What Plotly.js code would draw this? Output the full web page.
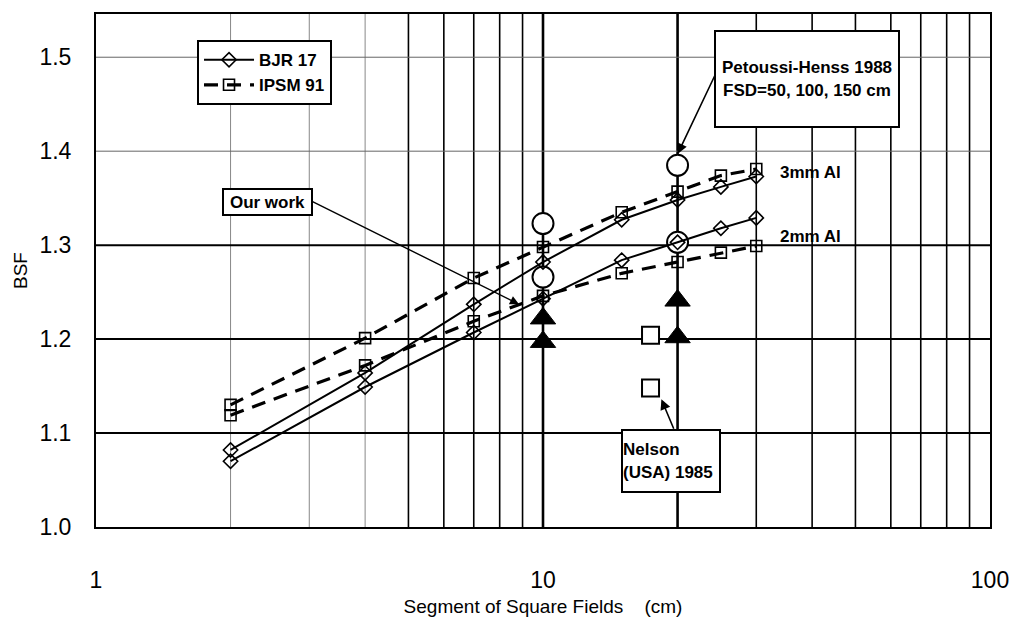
<!DOCTYPE html>
<html>
<head>
<meta charset="utf-8">
<script src="https://cdn.plot.ly/plotly-3.0.1.min.js"></script>
<style>html,body{margin:0;padding:0;background:#fff;}#chart{width:1015px;height:633px;}</style>
</head>
<body>
<div id="chart"></div>
<script>
// ---- data ----
const fieldSize = [2, 4, 7, 10, 15, 20, 25, 30];
const bjr3mm = [1.082, 1.164, 1.237, 1.282, 1.327, 1.348, 1.362, 1.373];
const bjr2mm = [1.070, 1.149, 1.207, 1.243, 1.284, 1.303, 1.318, 1.329];
const ipsm3mm = [1.130, 1.201, 1.265, 1.298, 1.335, 1.357, 1.374, 1.381];
const ipsm2mm = [1.119, 1.172, 1.219, 1.246, 1.270, 1.282, 1.292, 1.299];
const petoussiX = [10, 10, 20, 20];
const petoussiY = [1.323, 1.266, 1.385, 1.303];
const ourWorkX = [10, 10, 20, 20];
const ourWorkY = [1.222, 1.197, 1.241, 1.202];
const nelsonX = [17.4, 17.4];
const nelsonY = [1.204, 1.148];
const xTickVals = [1, 10, 100];
const xTickText = ['1', '10', '100'];
const yTickVals = [1.0, 1.1, 1.2, 1.3, 1.4, 1.5];
const yTickText = ['1.0', '1.1', '1.2', '1.3', '1.4', '1.5'];
const gridXGray = [2, 3, 4];
const gridXBlack = [5, 6, 7, 8, 9, 30, 40, 50, 60, 70, 80, 90];
const gridXThick = [10, 20];
const gridYBlack = [1.1, 1.2, 1.3];
const gridYGray = [1.4, 1.5];

const FONT = "'Liberation Sans Narrow', 'Arial Narrow', 'Liberation Sans', Arial, sans-serif";

const traces = [
  {x: petoussiX, y: petoussiY, mode: 'markers', showlegend: false, name: 'Petoussi-Henss 1988',
   marker: {symbol: 'circle', size: 21, color: 'white', line: {color: 'black', width: 2}}},
  {x: fieldSize, y: bjr3mm, mode: 'lines+markers', name: 'BJR 17', legendgroup: 'bjr',
   line: {color: 'black', width: 2},
   marker: {symbol: 'diamond-open', size: 11, color: 'black', line: {width: 1.6}}},
  {x: fieldSize, y: bjr2mm, mode: 'lines+markers', name: 'BJR 17', legendgroup: 'bjr', showlegend: false,
   line: {color: 'black', width: 2},
   marker: {symbol: 'diamond-open', size: 11, color: 'black', line: {width: 1.6}}},
  {x: fieldSize, y: ipsm3mm, mode: 'lines+markers', name: 'IPSM 91', legendgroup: 'ipsm',
   line: {color: 'black', width: 3.2, dash: '14px,9px'},
   marker: {symbol: 'square-open', size: 11, color: 'black', line: {width: 1.6}}},
  {x: fieldSize, y: ipsm2mm, mode: 'lines+markers', name: 'IPSM 91', legendgroup: 'ipsm', showlegend: false,
   line: {color: 'black', width: 3.2, dash: '14px,9px'},
   marker: {symbol: 'square-open', size: 11, color: 'black', line: {width: 1.6}}},
  {x: ourWorkX, y: ourWorkY, mode: 'markers', showlegend: false, name: 'Our work',
   marker: {symbol: 'triangle-up', size: 22, color: 'black', line: {color: 'black', width: 1}}},
  {x: nelsonX, y: nelsonY, mode: 'markers', showlegend: false, name: 'Nelson (USA) 1985',
   marker: {symbol: 'square', size: 17, color: 'white', line: {color: 'black', width: 2}}}
];

const shapes = [];
gridXGray.forEach(v => shapes.push({type: 'line', xref: 'x', yref: 'paper', x0: v, x1: v, y0: 0, y1: 1, layer: 'below', line: {color: '#888', width: 1}}));
gridXBlack.forEach(v => shapes.push({type: 'line', xref: 'x', yref: 'paper', x0: v, x1: v, y0: 0, y1: 1, layer: 'below', line: {color: 'black', width: 1.6}}));
gridXThick.forEach(v => shapes.push({type: 'line', xref: 'x', yref: 'paper', x0: v, x1: v, y0: 0, y1: 1, layer: 'below', line: {color: 'black', width: 2.6}}));
gridYBlack.forEach(v => shapes.push({type: 'line', xref: 'paper', yref: 'y', x0: 0, x1: 1, y0: v, y1: v, layer: 'below', line: {color: 'black', width: 2}}));
gridYGray.forEach(v => shapes.push({type: 'line', xref: 'paper', yref: 'y', x0: 0, x1: 1, y0: v, y1: v, layer: 'below', line: {color: '#666', width: 1}}));

const boxFont = {family: FONT, size: 17, color: 'black', weight: 'bold'};
const annotations = [
  // text boxes
  {xref: 'paper', yref: 'paper', x: 0.7953, y: 0.8733, text: 'Petoussi-Henss 1988<br>FSD=50, 100, 150 cm',
   showarrow: false, font: boxFont, bgcolor: 'white', bordercolor: 'black', borderwidth: 2, borderpad: 0,
   width: 182, height: 94, align: 'center', xanchor: 'center', yanchor: 'middle'},
  {xref: 'paper', yref: 'paper', x: 0.1913, y: 0.6345, text: 'Our work',
   showarrow: false, font: boxFont, bgcolor: 'white', bordercolor: 'black', borderwidth: 2, borderpad: 0,
   width: 87, height: 24, align: 'center', xanchor: 'center', yanchor: 'middle'},
  {xref: 'paper', yref: 'paper', x: 0.6432, y: 0.1277, text: 'Nelson<br>(USA) 1985',
   showarrow: false, font: boxFont, bgcolor: 'white', bordercolor: 'black', borderwidth: 2, borderpad: 0,
   width: 96, height: 60, align: 'left', xanchor: 'center', yanchor: 'middle'},
  {xref: 'paper', yref: 'paper', x: 0.7987, y: 0.692, text: '3mm Al', showarrow: false, font: boxFont, xanchor: 'center', yanchor: 'middle'},
  {xref: 'paper', yref: 'paper', x: 0.7987, y: 0.567, text: '2mm Al', showarrow: false, font: boxFont, xanchor: 'center', yanchor: 'middle'},
  // arrows (log axis: annotation x given as log10)
  {xref: 'x', yref: 'y', x: Math.log10(20), y: 1.397, ax: 38, ay: -80, text: '', showarrow: true,
   arrowhead: 2, arrowsize: 1.3, arrowwidth: 1.6, arrowcolor: 'black', standoff: 0, startstandoff: 0},
  {xref: 'x', yref: 'y', x: Math.log10(8.84), y: 1.237, ax: -209, ay: -104, text: '', showarrow: true,
   arrowhead: 2, arrowsize: 1.3, arrowwidth: 1.4, arrowcolor: 'black', standoff: 0, startstandoff: 0},
  {xref: 'x', yref: 'y', x: Math.log10(18.4), y: 1.136, ax: 13, ay: 31, text: '', showarrow: true,
   arrowhead: 2, arrowsize: 1.3, arrowwidth: 1.6, arrowcolor: 'black', standoff: 0, startstandoff: 0}
];

const layout = {
  width: 1015, height: 633,
  margin: {l: 96, r: 25, t: 14, b: 106},
  paper_bgcolor: 'white', plot_bgcolor: 'white',
  font: {family: FONT, color: 'black'},
  xaxis: {
    type: 'log', range: [0, 2], tickvals: xTickVals, ticktext: xTickText,
    showgrid: false, zeroline: false, showline: true, linecolor: 'black', linewidth: 2, mirror: true,
    ticks: '', tickfont: {family: FONT, size: 23}, ticklabelstandoff: 31,
    title: {text: 'Segment of Square Fields    (cm)', font: {family: FONT, size: 19}, standoff: 8}
  },
  yaxis: {
    range: [1.0, 1.546], tickvals: yTickVals, ticktext: yTickText,
    showgrid: false, zeroline: false, showline: true, linecolor: 'black', linewidth: 2, mirror: true,
    ticks: '', tickfont: {family: FONT, size: 23}, ticklabelstandoff: 18,
    title: {text: 'BSF', font: {family: FONT, size: 19}, standoff: 7}
  },
  showlegend: true,
  legend: {
    x: 0.113, y: 0.949, xanchor: 'left', yanchor: 'top',
    bgcolor: 'white', bordercolor: 'black', borderwidth: 2,
    font: {family: FONT, size: 17, color: 'black', weight: 'bold'},
    itemwidth: 50, tracegroupgap: 0, traceorder: 'normal'
  },
  shapes: shapes,
  annotations: annotations
};

Plotly.newPlot('chart', traces, layout, {staticPlot: true, displayModeBar: false});
</script>
</body>
</html>
